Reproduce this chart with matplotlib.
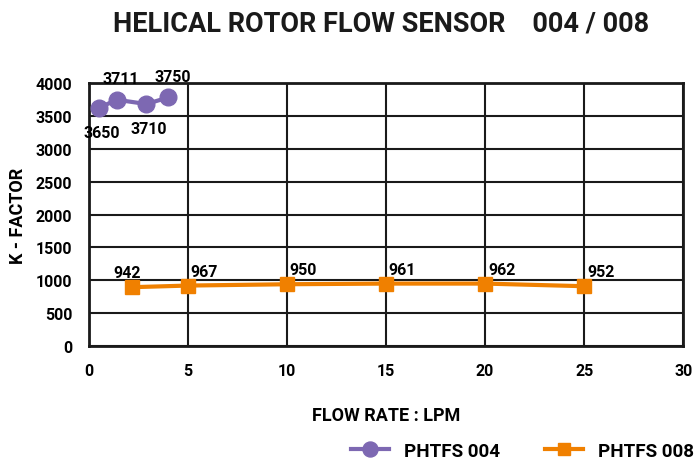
import matplotlib.pyplot as plt

plt.rcParams['font.family'] = ['Roboto', 'DejaVu Sans']
plt.rcParams['font.weight'] = 'bold'

# PHTFS 004
x004 = [0.5, 1.4, 2.9, 4.0]
y004 = [3620, 3745, 3680, 3780]
lab004 = ['3650', '3711', '3710', '3750']

# PHTFS 008
x008 = [2.15, 5, 10, 15, 20, 25]
y008 = [895, 920, 940, 950, 950, 910]
lab008 = ['942', '967', '950', '961', '962', '952']

xticks = [0, 5, 10, 15, 20, 25, 30]
yticks = [0, 500, 1000, 1500, 2000, 2500, 3000, 3500, 4000]

purple = '#7d68b2'
orange = '#f08000'

fig = plt.figure(figsize=(6.95, 4.64), dpi=100)
ax = fig.add_axes([0.128, 0.252, 0.855, 0.567])

ax.plot(x004, y004, color=purple, lw=3, marker='o', ms=12, label='PHTFS 004', zorder=3)
ax.plot(x008, y008, color=orange, lw=3, marker='s', ms=10, label='PHTFS 008', zorder=3)

# labels for 004: alternating below / above
for i, (x, y, t) in enumerate(zip(x004, y004, lab004)):
    if i % 2 == 0:
        ax.annotate(t, (x, y), xytext=(2, -12), textcoords='offset points',
                    ha='center', va='top', fontsize=11.5, fontweight='bold')
    else:
        ax.annotate(t, (x, y), xytext=(3, 10), textcoords='offset points',
                    ha='center', va='bottom', fontsize=11.5, fontweight='bold')

for i, (x, y, t) in enumerate(zip(x008, y008, lab008)):
    if i == 0:
        ax.annotate(t, (x, y), xytext=(-3, 5), textcoords='offset points',
                    ha='center', va='bottom', fontsize=11.5, fontweight='bold')
    else:
        ax.annotate(t, (x, y), xytext=(2, 5), textcoords='offset points',
                    ha='left', va='bottom', fontsize=11.5, fontweight='bold')

ax.set_xlim(0, 30)
ax.set_ylim(0, 4000)
ax.set_xticks(xticks)
ax.set_yticks(yticks)
ax.grid(True, color='#1a1a1a', lw=1.5)
ax.set_axisbelow(True)
for s in ax.spines.values():
    s.set_linewidth(2)
    s.set_color('#1a1a1a')
ax.tick_params(length=0, labelsize=11.5, pad=12)
for lbl in ax.get_xticklabels() + ax.get_yticklabels():
    lbl.set_fontweight('bold')

ax.set_xlabel('FLOW RATE : LPM', fontsize=13, fontweight='bold', labelpad=20)
ax.set_ylabel('K - FACTOR', fontsize=13, fontweight='bold', labelpad=6)

fig.suptitle('HELICAL ROTOR FLOW SENSOR    004 / 008', x=0.548, y=0.978,
             fontsize=19.5, fontweight='bold', color='#1a1a1a')

fig.legend(loc='center right', bbox_to_anchor=(0.998, 0.026), ncol=2, frameon=False,
           handlelength=2.0, handletextpad=0.8, columnspacing=2.4, markerscale=0.9,
           borderaxespad=0, borderpad=0, prop={'weight': 'bold', 'size': 13.5})

fig.savefig('out.png', dpi=100)
